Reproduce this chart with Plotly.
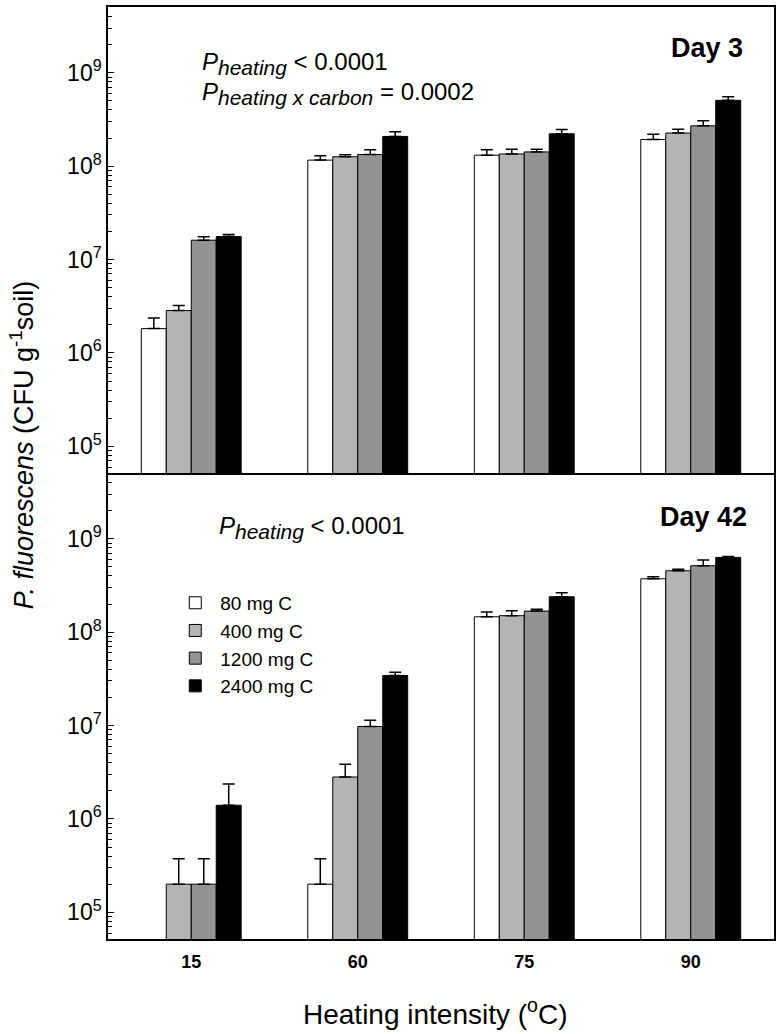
import plotly.graph_objects as go

categories = ["15", "60", "75", "90"]
series_names = ["80 mg C", "400 mg C", "1200 mg C", "2400 mg C"]
colors = ["#ffffff", "#b4b4b4", "#939393", "#000000"]

# Day 3 means and upper error amounts (CFU g-1 soil)
day3_80 = [1.82e6, 1.16e8, 1.31e8, 1.93e8]
day3_80_err = [0.55e6, 0.13e8, 0.19e8, 0.27e8]
day3_400 = [2.84e6, 1.26e8, 1.35e8, 2.26e8]
day3_400_err = [0.37e6, 0.06e8, 0.17e8, 0.23e8]
day3_1200 = [1.61e7, 1.33e8, 1.42e8, 2.70e8]
day3_1200_err = [0.14e7, 0.17e8, 0.10e8, 0.36e8]
day3_2400 = [1.76e7, 2.08e8, 2.22e8, 5.06e8]
day3_2400_err = [0.09e7, 0.25e8, 0.25e8, 0.47e8]

# Day 42
day42_80 = [None, 2.0e5, 1.46e8, 3.73e8]
day42_80_err = [0, 1.75e5, 0.18e8, 0.18e8]
day42_400 = [2.0e5, 2.81e6, 1.50e8, 4.54e8]
day42_400_err = [1.75e5, 1.04e6, 0.19e8, 0.16e8]
day42_1200 = [2.0e5, 9.76e6, 1.68e8, 5.14e8]
day42_1200_err = [1.75e5, 1.6e6, 0.08e8, 0.77e8]
day42_2400 = [1.40e6, 3.43e7, 2.39e8, 6.31e8]
day42_2400_err = [0.97e6, 0.29e7, 0.25e8, 0.16e8]

y_tick_vals = [1e5, 1e6, 1e7, 1e8, 1e9]
y_tick_text = ["10<sup>5</sup>", "10<sup>6</sup>", "10<sup>7</sup>", "10<sup>8</sup>", "10<sup>9</sup>"]
minor_vals = [m * 10 ** e for e in range(4, 10) for m in range(2, 10)]

FONT = "Liberation Sans, Arial, sans-serif"

day3 = [(day3_80, day3_80_err), (day3_400, day3_400_err),
        (day3_1200, day3_1200_err), (day3_2400, day3_2400_err)]
day42 = [(day42_80, day42_80_err), (day42_400, day42_400_err),
         (day42_1200, day42_1200_err), (day42_2400, day42_2400_err)]

fig = go.Figure()
for panel, (data, xa, ya) in enumerate([(day3, "x", "y"), (day42, "x2", "y2")]):
    for i, (vals, errs) in enumerate(data):
        fig.add_trace(go.Bar(
            x=categories, y=vals, name=series_names[i],
            xaxis=xa, yaxis=ya,
            marker=dict(color=colors[i], line=dict(color="#000000", width=1)),
            error_y=dict(type="data", symmetric=False, array=errs,
                         arrayminus=[0] * len(errs), color="#000000",
                         thickness=1.5, width=6),
            showlegend=(panel == 1),
        ))

line_style = dict(showline=True, linecolor="#000000", linewidth=1.5,
                  showgrid=False, zeroline=False, automargin=False)
yaxis_common = dict(type="log", range=[4.714, 9.704], tickvals=y_tick_vals,
                    ticktext=y_tick_text, ticks="inside", ticklen=6, tickwidth=1,
                    tickcolor="#000000", mirror=True,
                    minor=dict(tickvals=minor_vals, ticks="inside", ticklen=4,
                               tickwidth=1, tickcolor="#000000", showgrid=False),
                    tickfont=dict(family=FONT, size=23, color="#000000"), **line_style)

fig.update_layout(
    width=782, height=1034,
    margin=dict(l=108, r=8, t=7, b=95, autoexpand=False),
    paper_bgcolor="white", plot_bgcolor="white",
    barmode="group", bargap=0.4, bargroupgap=0,
    font=dict(family=FONT, color="#000000"),
    xaxis=dict(domain=[0, 1], anchor="y", showticklabels=False, ticks="",
               mirror=True, **line_style),
    xaxis2=dict(domain=[0, 1], anchor="y2", matches="x", ticks="", mirror=False,
                tickfont=dict(family=FONT, size=18, color="#000000", weight="bold"),
                ticklabelstandoff=6, **line_style),
    yaxis=dict(domain=[0.5, 1], anchor="x", **yaxis_common),
    yaxis2=dict(domain=[0, 0.5], anchor="x2", **yaxis_common),
    legend=dict(x=0.0935, y=0.381, xanchor="left", yanchor="top",
                bgcolor="rgba(0,0,0,0)", font=dict(family=FONT, size=19),
                traceorder="normal", itemwidth=40, tracegroupgap=0),
    showlegend=True,
)

sub = '<sub><span style="font-size:21px"><i>{}</i></span></sub>'
annots = [
    dict(text="<i>P</i>" + sub.format("heating") + " &lt; 0.0001", x=0.138, y=0.939),
    dict(text="<i>P</i>" + sub.format("heating x carbon") + " = 0.0002", x=0.138, y=0.907),
    dict(text="<i>P</i>" + sub.format("heating") + " &lt; 0.0001", x=0.164, y=0.442),
]
for a in annots:
    fig.add_annotation(text=a["text"], x=a["x"], y=a["y"], xref="paper", yref="paper",
                       xanchor="left", yanchor="middle", showarrow=False,
                       font=dict(family=FONT, size=24, color="#000000"))

fig.add_annotation(text="<b>Day 3</b>", x=0.956, y=0.956, xref="paper", yref="paper",
                   xanchor="right", yanchor="middle", showarrow=False,
                   font=dict(family=FONT, size=27, color="#000000"))
fig.add_annotation(text="<b>Day 42</b>", x=0.962, y=0.453, xref="paper", yref="paper",
                   xanchor="right", yanchor="middle", showarrow=False,
                   font=dict(family=FONT, size=27, color="#000000"))

fig.add_annotation(text="<i>P. fluorescens</i> (CFU g<sup>-1</sup>soil)",
                   x=-0.129, y=0.53, xref="paper", yref="paper", textangle=-90,
                   xanchor="center", yanchor="middle", showarrow=False,
                   font=dict(family=FONT, size=27, color="#000000"))
fig.add_annotation(text="Heating intensity (<sup>o</sup>C)",
                   x=0.491, y=-0.078, xref="paper", yref="paper",
                   xanchor="center", yanchor="middle", showarrow=False,
                   font=dict(family=FONT, size=28, color="#000000"))

fig.write_html("out.html", config={"displayModeBar": False},
               post_script="document.body.style.margin='0px';")
